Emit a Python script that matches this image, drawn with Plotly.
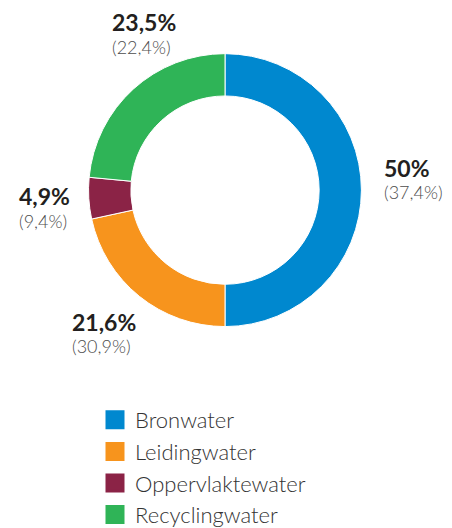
import plotly.graph_objects as go

# water sources, share this year and (previous year)
labels = ["Bronwater", "Leidingwater", "Oppervlaktewater", "Recyclingwater"]
share = [50, 21.6, 4.9, 23.5]
previous = [37.4, 30.9, 9.4, 22.4]
colors = ["#0088cf", "#f7941d", "#8b2346", "#2fb457"]

W, H = 452, 528
OFF = 8  # page body margin

# label anchor (left x, bold line y, paren line y) in pixels of the screenshot
label_pos = [(382, 169, 193), (70, 324, 349), (17, 197, 223), (110, 22, 47)]


def px_x(x):
    return (x - OFF) / W


def px_y(y):
    return 1 - (y - OFF) / H


def fmt(v):
    return ("%g" % v).replace(".", ",") + "%"


fig = go.Figure()
fig.add_trace(go.Pie(
    labels=labels,
    values=share,
    hole=0.69,
    sort=False,
    direction="clockwise",
    rotation=0,
    textinfo="none",
    hoverinfo="label+percent",
    showlegend=False,
    marker=dict(colors=colors, line=dict(color="white", width=1)),
    domain=dict(x=[px_x(88), px_x(362)], y=[px_y(329), px_y(54)]),
))

# legend entries with bigger square swatches
for name, c in zip(labels, colors):
    fig.add_trace(go.Scatter(
        x=[None], y=[None], mode="markers", name=name,
        marker=dict(symbol="square", size=16, color=c, line=dict(color=c, width=3)),
    ))

for v, p, (x, yb, yp) in zip(share, previous, label_pos):
    fig.add_annotation(x=px_x(x), y=px_y(yb), xref="paper", yref="paper",
                       xanchor="left", yanchor="middle", showarrow=False,
                       text="<b>" + fmt(v) + "</b>",
                       font=dict(family="Lato", size=23, color="#231f20"))
    fig.add_annotation(x=px_x(x), y=px_y(yp), xref="paper", yref="paper",
                       xanchor="left", yanchor="middle", showarrow=False,
                       text="(" + fmt(p) + ")",
                       font=dict(family="Lato", size=18, color="#4d4d4d", weight=300))

fig.update_layout(
    width=W, height=H,
    margin=dict(l=0, r=0, t=0, b=0),
    paper_bgcolor="white",
    plot_bgcolor="white",
    xaxis=dict(visible=False),
    yaxis=dict(visible=False),
    showlegend=True,
    legend=dict(x=px_x(95), y=px_y(402), xanchor="left", yanchor="top",
                font=dict(family="Lato", size=22, color="#333333", weight=300),
                traceorder="normal", itemclick=False, itemdoubleclick=False),
)

fig.write_html("out.html")
